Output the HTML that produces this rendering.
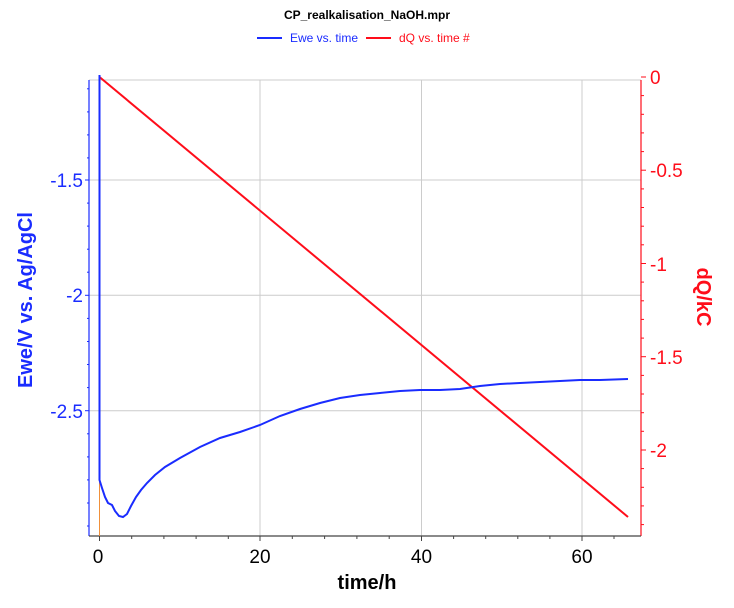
<!DOCTYPE html>
<html><head><meta charset="utf-8"><style>
html,body{margin:0;padding:0;background:#fff;}
svg{display:block;font-family:"Liberation Sans",Arial,sans-serif;}
</style></head><body>
<svg width="734" height="608" viewBox="0 0 734 608" xmlns="http://www.w3.org/2000/svg">
<text x="367" y="19" text-anchor="middle" font-size="12" font-weight="bold" fill="#000">CP_realkalisation_NaOH.mpr</text>
<line x1="257" y1="38" x2="282" y2="38" stroke="#1a2cff" stroke-width="2"/>
<text x="290" y="42" font-size="12" fill="#1a2cff">Ewe vs. time</text>
<line x1="366" y1="38" x2="391" y2="38" stroke="#ff0d1a" stroke-width="2"/>
<text x="399" y="42" font-size="12" fill="#ff0d1a">dQ vs. time #</text>
<g stroke="#cccccc" stroke-width="1">
<line x1="260" y1="80" x2="260" y2="536"/>
<line x1="421.5" y1="80" x2="421.5" y2="536"/>
<line x1="582" y1="80" x2="582" y2="536"/>
<line x1="89" y1="180" x2="641" y2="180"/>
<line x1="89" y1="295.3" x2="641" y2="295.3"/>
<line x1="89" y1="410.7" x2="641" y2="410.7"/>
<line x1="89" y1="80" x2="641" y2="80"/>
</g>
<line x1="89" y1="80" x2="89" y2="536" stroke="#1a2cff" stroke-width="1.2"/>
<line x1="641" y1="80" x2="641" y2="536" stroke="#ff0d1a" stroke-width="1.2"/>
<line x1="89" y1="536" x2="641" y2="536" stroke="#444" stroke-width="1.2"/>
<line x1="99.5" y1="80" x2="99.5" y2="536" stroke="#f0903a" stroke-width="1"/>
<g stroke="#1a2cff" stroke-width="1">
<line x1="85" y1="180" x2="89" y2="180"/><line x1="85" y1="295.3" x2="89" y2="295.3"/><line x1="85" y1="410.7" x2="89" y2="410.7"/>
<line x1="87" y1="88.8" x2="89" y2="88.8"/><line x1="87" y1="111.9" x2="89" y2="111.9"/><line x1="87" y1="134.9" x2="89" y2="134.9"/><line x1="87" y1="157.9" x2="89" y2="157.9"/>
<line x1="87" y1="203.1" x2="89" y2="203.1"/><line x1="87" y1="226.1" x2="89" y2="226.1"/><line x1="87" y1="249.2" x2="89" y2="249.2"/><line x1="87" y1="272.2" x2="89" y2="272.2"/>
<line x1="87" y1="318.4" x2="89" y2="318.4"/><line x1="87" y1="341.5" x2="89" y2="341.5"/><line x1="87" y1="364.5" x2="89" y2="364.5"/><line x1="87" y1="387.6" x2="89" y2="387.6"/>
<line x1="87" y1="433.8" x2="89" y2="433.8"/><line x1="87" y1="456.9" x2="89" y2="456.9"/><line x1="87" y1="479.9" x2="89" y2="479.9"/><line x1="87" y1="503" x2="89" y2="503"/><line x1="87" y1="526" x2="89" y2="526"/>
</g>
<g font-size="19" fill="#1a2cff" text-anchor="end">
<text x="83" y="187">-1.5</text><text x="83" y="302">-2</text><text x="83" y="418">-2.5</text>
</g>
<text transform="translate(32,300) rotate(-90)" text-anchor="middle" font-size="20" font-weight="bold" fill="#1a2cff">Ewe/V vs. Ag/AgCl</text>
<g stroke="#ff0d1a" stroke-width="1">
<line x1="641" y1="77" x2="646" y2="77"/><line x1="641" y1="170.2" x2="646" y2="170.2"/><line x1="641" y1="263.5" x2="646" y2="263.5"/><line x1="641" y1="356.7" x2="646" y2="356.7"/><line x1="641" y1="450" x2="646" y2="450"/>
<line x1="641" y1="95.6" x2="644" y2="95.6"/><line x1="641" y1="114.3" x2="644" y2="114.3"/><line x1="641" y1="132.9" x2="644" y2="132.9"/><line x1="641" y1="151.6" x2="644" y2="151.6"/>
<line x1="641" y1="188.9" x2="644" y2="188.9"/><line x1="641" y1="207.5" x2="644" y2="207.5"/><line x1="641" y1="226.2" x2="644" y2="226.2"/><line x1="641" y1="244.8" x2="644" y2="244.8"/>
<line x1="641" y1="282.1" x2="644" y2="282.1"/><line x1="641" y1="300.8" x2="644" y2="300.8"/><line x1="641" y1="319.4" x2="644" y2="319.4"/><line x1="641" y1="338.1" x2="644" y2="338.1"/>
<line x1="641" y1="375.4" x2="644" y2="375.4"/><line x1="641" y1="394" x2="644" y2="394"/><line x1="641" y1="412.7" x2="644" y2="412.7"/><line x1="641" y1="431.3" x2="644" y2="431.3"/>
<line x1="641" y1="468.6" x2="644" y2="468.6"/><line x1="641" y1="487.3" x2="644" y2="487.3"/><line x1="641" y1="505.9" x2="644" y2="505.9"/><line x1="641" y1="524.6" x2="644" y2="524.6"/>
</g>
<g font-size="19" fill="#ff0d1a">
<text x="650" y="84">0</text><text x="650" y="177">-0.5</text><text x="650" y="271">-1</text><text x="650" y="364">-1.5</text><text x="650" y="457">-2</text>
</g>
<text transform="translate(697,297) rotate(90)" text-anchor="middle" font-size="20" font-weight="bold" fill="#ff0d1a">dQ/kC</text>
<g stroke="#444" stroke-width="1">
<line x1="99.5" y1="536" x2="99.5" y2="541"/><line x1="260" y1="536" x2="260" y2="541"/><line x1="421.5" y1="536" x2="421.5" y2="541"/><line x1="582" y1="536" x2="582" y2="541"/>
<line x1="131.7" y1="536" x2="131.7" y2="539"/><line x1="163.9" y1="536" x2="163.9" y2="539"/><line x1="196.1" y1="536" x2="196.1" y2="539"/><line x1="228.3" y1="536" x2="228.3" y2="539"/>
<line x1="292.3" y1="536" x2="292.3" y2="539"/><line x1="324.6" y1="536" x2="324.6" y2="539"/><line x1="356.9" y1="536" x2="356.9" y2="539"/><line x1="389.2" y1="536" x2="389.2" y2="539"/>
<line x1="453.6" y1="536" x2="453.6" y2="539"/><line x1="485.7" y1="536" x2="485.7" y2="539"/><line x1="517.8" y1="536" x2="517.8" y2="539"/><line x1="549.9" y1="536" x2="549.9" y2="539"/>
<line x1="614" y1="536" x2="614" y2="539"/>
</g>
<g font-size="19" fill="#000" text-anchor="middle">
<text x="98" y="563">0</text><text x="260" y="563">20</text><text x="421.5" y="563">40</text><text x="582" y="563">60</text>
</g>
<text x="367" y="589" text-anchor="middle" font-size="20" font-weight="bold" fill="#000">time/h</text>
<polyline fill="none" stroke="#ff0d1a" stroke-width="2" points="99.5,77 628,517"/>
<polyline fill="none" stroke="#1a2cff" stroke-width="2" points="99.5,75 99.5,480 102,488 105,497 108,503 112,505 115,511 119,516 123,517 127,514 131,506 136,497 141,490 147,483 155,475 165,467 180,458 200,447 220,438 240,432 260,425 280,416 300,409 320,403 340,398 360,395 380,393 400,391 420,390 440,390 460,389 480,386 500,384 520,383 540,382 560,381 580,380 600,380 628,379"/>
</svg>
</body></html>
